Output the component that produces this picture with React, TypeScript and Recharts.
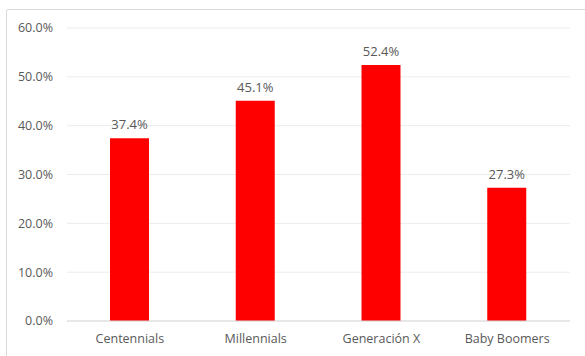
import React from "react";
import {
  BarChart,
  Bar,
  XAxis,
  YAxis,
  CartesianGrid,
  LabelList,
} from "recharts";

const generations: string[] = [
  "Centennials",
  "Millennials",
  "Generación X",
  "Baby Boomers",
];
const shares: number[] = [37.4, 45.1, 52.4, 27.3];
const yTicks: number[] = [0, 10, 20, 30, 40, 50, 60];

const data = generations.map((name, i) => ({ name, value: shares[i] }));

const textColor = "#595959";
const font = "'Open Sans', sans-serif";

const App: React.FC = () => {
  return (
    <div
      style={{
        position: "absolute",
        left: 0,
        top: 0,
        width: 585,
        height: 356,
        overflow: "hidden",
        background: "#fff",
      }}
    >
      <div
        style={{
          position: "absolute",
          left: 6,
          top: 9,
          width: 600,
          height: 380,
          border: "1px solid #d9d9d9",
          borderRadius: 2,
        }}
      />
      <BarChart
        width={585}
        height={356}
        data={data}
        margin={{ top: 28, right: 15, bottom: 0, left: 0 }}
        barSize={39}
        style={{ position: "absolute", left: 0, top: 0, fontFamily: font }}
      >
        <CartesianGrid vertical={false} stroke="#ececec" strokeWidth={1} />
        <XAxis
          dataKey="name"
          height={35}
          tickLine={false}
          axisLine={{ stroke: "#d9d9d9" }}
          tickSize={0}
          tickMargin={13}
          tick={{ fill: textColor, fontSize: 12.5, fontFamily: font }}
          interval={0}
        />
        <YAxis
          width={67}
          domain={[0, 60]}
          ticks={yTicks}
          tickFormatter={(v: number) => `${v.toFixed(1)}%`}
          axisLine={false}
          tickLine={false}
          tickSize={0}
          tickMargin={14}
          tick={{ fill: textColor, fontSize: 12.5, fontFamily: font }}
        />
        <Bar dataKey="value" fill="#ff0000" isAnimationActive={false}>
          <LabelList
            dataKey="value"
            position="top"
            offset={9}
            formatter={(v: number) => `${v.toFixed(1)}%`}
            style={{ fill: textColor, fontSize: 13, fontFamily: font }}
          />
        </Bar>
      </BarChart>
    </div>
  );
};

export default App;
